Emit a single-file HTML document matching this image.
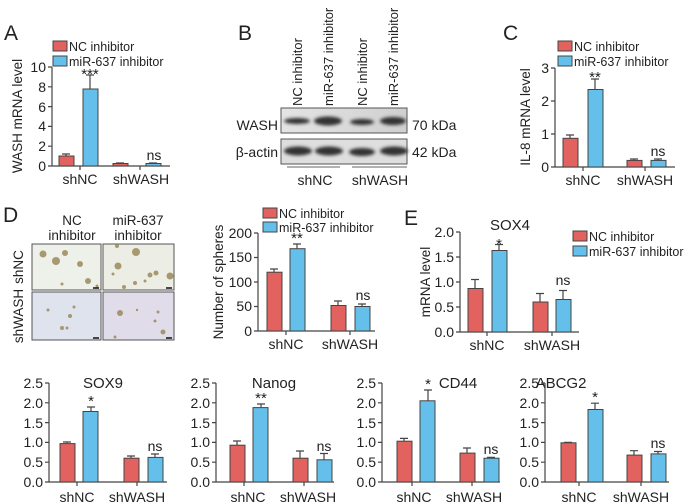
<!DOCTYPE html>
<html><head><meta charset="utf-8"><style>
html,body{margin:0;padding:0;background:#fff;}
svg{display:block;font-family:"Liberation Sans",Arial,sans-serif;}
.r{fill:#e2625f;stroke:#444;stroke-width:1}
.b{fill:#64bfea;stroke:#444;stroke-width:1}
.ax{stroke:#444;stroke-width:1.2;fill:none}
.e{stroke:#444;stroke-width:1.2;fill:none}
.t{font-size:14px;text-anchor:end;fill:#222}
.xl{font-size:14px;text-anchor:middle;fill:#222}
.lg{font-size:12.5px;fill:#222}
.s{font-size:13px;text-anchor:middle;fill:#222}
.L{font-size:21px;fill:#222}
.ti{font-size:15px;text-anchor:middle;fill:#222}
</style></head><body>
<svg width="685" height="503" viewBox="0 0 685 503">
<!-- Panel A -->
<text class="L" x="4" y="40">A</text>
<rect class="r" x="53" y="41" width="14" height="10"/><text class="lg" x="69" y="51">NC inhibitor</text>
<rect class="b" x="53" y="56" width="14" height="10"/><text class="lg" x="69" y="66">miR-637 inhibitor</text>
<text transform="translate(22,116) rotate(-90)" class="xl" style="font-size:13.5px">WASH mRNA level</text>
<path class="ax" d="M52,67V166H170M48,67H52M48,86.8H52M48,106.6H52M48,126.4H52M48,146.2H52M48,166H52M80,166V170M140,166V170"/>
<text class="t" x="46" y="72">10</text><text class="t" x="46" y="92">8</text><text class="t" x="46" y="112">6</text><text class="t" x="46" y="131">4</text><text class="t" x="46" y="151">2</text><text class="t" x="46" y="171">0</text>
<path class="e" d="M66,156V154M62,154H70M90,89V75M86,75H94M120,163.5V163M116,163H124M153,163.5V163M149,163H157"/>
<rect class="r" x="59" y="156" width="15" height="10"/><rect class="b" x="83" y="89" width="15" height="77"/>
<rect class="r" x="113" y="163.5" width="15" height="2.5"/><rect class="b" x="146" y="163.5" width="15" height="2.5"/>
<text class="s" x="90" y="79" style="font-size:15px">***</text><text class="s" x="154" y="160" style="font-size:14px">ns</text>
<text class="xl" x="80" y="184">shNC</text><text class="xl" x="141" y="184">shWASH</text>

<!-- Panel B -->
<text class="L" x="238" y="40">B</text>
<text transform="translate(302,106) rotate(-90)" style="font-size:13px;fill:#222">NC inhibitor</text>
<text transform="translate(333,106) rotate(-90)" style="font-size:13px;fill:#222">miR-637 inhibitor</text>
<text transform="translate(367,106) rotate(-90)" style="font-size:13px;fill:#222">NC inhibitor</text>
<text transform="translate(398,106) rotate(-90)" style="font-size:13px;fill:#222">miR-637 inhibitor</text>
<defs><linearGradient id="bg" x1="0" x2="1"><stop offset="0" stop-color="#e4e4e4"/><stop offset="0.6" stop-color="#d8d8d8"/><stop offset="1" stop-color="#cfcfcf"/></linearGradient>
<filter id="bl"><feGaussianBlur stdDeviation="1.6"/></filter></defs>
<rect x="281" y="108" width="126" height="25" fill="url(#bg)" stroke="#555"/>
<rect x="281" y="139" width="126" height="25" fill="#dedede" stroke="#555"/>
<g filter="url(#bl)" fill="#333">
<ellipse cx="297" cy="121" rx="13" ry="3"/><ellipse cx="328" cy="121" rx="14" ry="4.5"/><ellipse cx="362" cy="122" rx="12" ry="3"/><ellipse cx="393" cy="121" rx="13" ry="4"/>
<ellipse cx="298" cy="151" rx="14" ry="4.5"/><ellipse cx="329" cy="151" rx="14" ry="4.5"/><ellipse cx="362" cy="152" rx="13" ry="4"/><ellipse cx="394" cy="151" rx="14" ry="4.5"/>
</g>
<text x="278" y="130" style="font-size:14px;text-anchor:end;fill:#222">WASH</text>
<text x="278" y="157" style="font-size:14px;text-anchor:end;fill:#222">β-actin</text>
<text x="412" y="130" style="font-size:14px;fill:#222">70 kDa</text>
<text x="412" y="157" style="font-size:14px;fill:#222">42 kDa</text>
<path d="M287,167H340M352,167H407" stroke="#999" stroke-width="1.5"/>
<text class="xl" x="315" y="185">shNC</text><text class="xl" x="380" y="185">shWASH</text>

<!-- Panel C -->
<text class="L" x="503" y="40">C</text>
<rect class="r" x="558" y="41" width="14" height="10"/><text class="lg" x="574" y="51">NC inhibitor</text>
<rect class="b" x="558" y="56" width="14" height="10"/><text class="lg" x="574" y="66">miR-637 inhibitor</text>
<text transform="translate(530,117) rotate(-90)" class="xl" style="font-size:13.5px">IL-8 mRNA level</text>
<path class="ax" d="M555,68V167H675M551,68H555M551,101H555M551,134H555M551,167H555M583,167V171M645,167V171"/>
<text class="t" x="549" y="73">3</text><text class="t" x="549" y="106">2</text><text class="t" x="549" y="139">1</text><text class="t" x="549" y="172">0</text>
<path class="e" d="M570,138V135M566,135H574M595,89V79M591,79H599M634,160V159M630,159H638M658,160V159M654,159H662"/>
<rect class="r" x="563" y="138.3" width="15" height="28.7"/><rect class="b" x="588" y="89.5" width="15" height="77.5"/>
<rect class="r" x="627" y="160.4" width="15" height="6.6"/><rect class="b" x="651" y="160.4" width="15" height="6.6"/>
<text class="s" x="595" y="82" style="font-size:15px">**</text><text class="s" x="658" y="156" style="font-size:14px">ns</text>
<text class="xl" x="583" y="185">shNC</text><text class="xl" x="645" y="185">shWASH</text>

<!-- Panel D images -->
<text class="L" x="3" y="222">D</text>
<text class="xl" x="72" y="225" style="font-size:13.5px">NC</text><text class="xl" x="72" y="240" style="font-size:13.5px">inhibitor</text>
<text class="xl" x="138" y="225" style="font-size:13.5px">miR-637</text><text class="xl" x="138" y="240" style="font-size:13.5px">inhibitor</text>
<text transform="translate(23,267) rotate(-90)" class="xl" style="font-size:13.5px">shNC</text>
<text transform="translate(23,316) rotate(-90)" class="xl" style="font-size:13.5px">shWASH</text>
<rect x="32" y="244" width="69" height="46" fill="#eef0ea" stroke="#555"/>
<rect x="103" y="244" width="71" height="46" fill="#eceee6" stroke="#555"/>
<rect x="32" y="292" width="69" height="48" fill="#dfe3ee" stroke="#555"/>
<rect x="103" y="292" width="71" height="48" fill="#e0dcea" stroke="#555"/>
<g fill="#9b8a5a" opacity="0.85">
<circle cx="43" cy="254" r="3.5"/><circle cx="56" cy="261" r="4"/><circle cx="65" cy="253" r="3"/><circle cx="80" cy="264" r="3"/><circle cx="88" cy="281" r="3"/><circle cx="62" cy="284" r="1.5"/><circle cx="97" cy="286" r="1.5"/>
<circle cx="117" cy="246" r="2"/><circle cx="136" cy="252" r="4"/><circle cx="118" cy="266" r="3.5"/><circle cx="113" cy="274" r="1.5"/><circle cx="150" cy="275" r="2.5"/><circle cx="156" cy="273" r="2.5"/><circle cx="170" cy="276" r="3.5"/><circle cx="135" cy="283" r="2"/><circle cx="124" cy="287" r="2"/><circle cx="145" cy="281" r="1.5"/>
<circle cx="48" cy="310" r="1.5"/><circle cx="74" cy="307" r="1.5"/><circle cx="70" cy="316" r="2"/><circle cx="62" cy="328" r="2"/><circle cx="67" cy="328" r="1.5"/>
<circle cx="120" cy="313" r="3"/><circle cx="137" cy="310" r="1.2"/><circle cx="158" cy="312" r="1.5"/><circle cx="155" cy="321" r="1.5"/><circle cx="163" cy="332" r="2.5"/><circle cx="115" cy="337" r="1.5"/>
</g>
<path d="M93,288H99M166,288H172M93,338H99M166,338H172" stroke="#111" stroke-width="1.5"/>

<!-- Spheres -->
<rect class="r" x="263" y="208" width="14" height="10"/><text class="lg" x="279" y="218">NC inhibitor</text>
<rect class="b" x="263" y="222" width="14" height="10"/><text class="lg" x="279" y="232">miR-637 inhibitor</text>
<text transform="translate(223,282) rotate(-90)" class="xl" style="font-size:13.5px">Number of spheres</text>
<path class="ax" d="M258,233V331H375M254,233H258M254,257.5H258M254,282H258M254,306.5H258M254,331H258M286,331V335M350,331V335"/>
<text class="t" x="252" y="238">200</text><text class="t" x="252" y="262">150</text><text class="t" x="252" y="287">100</text><text class="t" x="252" y="311">50</text><text class="t" x="252" y="336">0</text>
<path class="e" d="M274,272V269M270,269H278M297,249V244M293,244H301M338,305V301M334,301H342M362,306V304M358,304H366"/>
<rect class="r" x="267" y="272.2" width="15" height="58.8"/><rect class="b" x="290" y="248.7" width="15" height="82.3"/>
<rect class="r" x="331" y="305.5" width="15" height="25.5"/><rect class="b" x="355" y="306.5" width="15" height="24.5"/>
<text class="s" x="297" y="243" style="font-size:15px">**</text><text class="s" x="363" y="300" style="font-size:14px">ns</text>
<text class="xl" x="286" y="349">shNC</text><text class="xl" x="350" y="349">shWASH</text>

<!-- Panel E SOX4 -->
<text class="L" x="404" y="225">E</text>
<text class="ti" x="510" y="230">SOX4</text>
<rect class="r" x="573" y="231" width="14" height="10"/><text class="lg" x="589" y="241">NC inhibitor</text>
<rect class="b" x="573" y="246" width="14" height="10"/><text class="lg" x="589" y="256">miR-637 inhibitor</text>
<text transform="translate(430,282) rotate(-90)" class="xl" style="font-size:13.5px">mRNA level</text>
<path class="ax" d="M460,232V332H579M456,232H460M456,257H460M456,282H460M456,307H460M456,332H460M487,332V336M552,332V336"/>
<text class="t" x="454" y="237">2.0</text><text class="t" x="454" y="262">1.5</text><text class="t" x="454" y="287">1.0</text><text class="t" x="454" y="312">0.5</text><text class="t" x="454" y="337">0.0</text>
<path class="e" d="M475,288V279.5M471,279.5H479M499,250V244.5M495,244.5H503M540,302V293.5M536,293.5H544M563,299V290.5M559,290.5H567"/>
<rect class="r" x="468" y="288.5" width="15" height="43.5"/><rect class="b" x="492" y="250.5" width="15" height="81.5"/>
<rect class="r" x="533" y="302" width="15" height="30"/><rect class="b" x="556" y="299.5" width="15" height="32.5"/>
<text class="s" x="499" y="249" style="font-size:15px">*</text><text class="s" x="563" y="285" style="font-size:14px">ns</text>
<text class="xl" x="487" y="350">shNC</text><text class="xl" x="552" y="350">shWASH</text>

<!-- Bottom row -->
<g transform="translate(49,0)">
<text class="ti" x="54" y="388">SOX9</text>
<path class="ax" d="M0,383V482H118M-4,383H0M-4,402.8H0M-4,422.6H0M-4,442.4H0M-4,462.2H0M-4,482H0M28,482V486M88,482V486"/>
<text class="t" x="-6" y="388">2.5</text><text class="t" x="-6" y="408">2.0</text><text class="t" x="-6" y="428">1.5</text><text class="t" x="-6" y="447">1.0</text><text class="t" x="-6" y="467">0.5</text><text class="t" x="-6" y="487">0.0</text>
<path class="e" d="M18,443V442M14,442H22M42,411V407M38,407H46M82,458V456M78,456H86M106,457V454M102,454H110"/>
<rect class="r" x="11" y="443.6" width="15" height="38.4"/><rect class="b" x="34" y="411.5" width="15" height="70.5"/>
<rect class="r" x="75" y="458.2" width="15" height="23.8"/><rect class="b" x="99" y="457.4" width="15" height="24.6"/>
<text class="s" x="42" y="406" style="font-size:15px">*</text><text class="s" x="106" y="451" style="font-size:14px">ns</text>
<text class="xl" x="28" y="502">shNC</text><text class="xl" x="88" y="502">shWASH</text>
</g>
<g transform="translate(216,0)">
<text class="ti" x="58" y="388">Nanog</text>
<path class="ax" d="M0,383V482H118M-4,383H0M-4,402.8H0M-4,422.6H0M-4,442.4H0M-4,462.2H0M-4,482H0M28,482V486M88,482V486"/>
<text class="t" x="-6" y="388">2.5</text><text class="t" x="-6" y="408">2.0</text><text class="t" x="-6" y="428">1.5</text><text class="t" x="-6" y="447">1.0</text><text class="t" x="-6" y="467">0.5</text><text class="t" x="-6" y="487">0.0</text>
<path class="e" d="M21,445V441M17,441H25M45,407V404M41,404H49M84,458V451M80,451H88M108,460V453.5M104,453.5H112"/>
<rect class="r" x="14" y="445.2" width="15" height="36.8"/><rect class="b" x="37" y="407.6" width="15" height="74.4"/>
<rect class="r" x="77" y="458.2" width="15" height="23.8"/><rect class="b" x="101" y="459.8" width="15" height="22.2"/>
<text class="s" x="45" y="403" style="font-size:15px">**</text><text class="s" x="108" y="451" style="font-size:14px">ns</text>
<text class="xl" x="32" y="502">shNC</text><text class="xl" x="92" y="502">shWASH</text>
</g>
<g transform="translate(382,0)">
<text class="ti" x="76" y="388">CD44</text>
<path class="ax" d="M0,383V482H118M-4,383H0M-4,402.8H0M-4,422.6H0M-4,442.4H0M-4,462.2H0M-4,482H0M30,482V486M90,482V486"/>
<text class="t" x="-6" y="388">2.5</text><text class="t" x="-6" y="408">2.0</text><text class="t" x="-6" y="428">1.5</text><text class="t" x="-6" y="447">1.0</text><text class="t" x="-6" y="467">0.5</text><text class="t" x="-6" y="487">0.0</text>
<path class="e" d="M22,441V438.4M18,438.4H26M46,401V390M42,390H50M85,453V448M81,448H89M109,458V457.4M105,457.4H113"/>
<rect class="r" x="15" y="441.2" width="15" height="40.8"/><rect class="b" x="38" y="400.8" width="15" height="81.2"/>
<rect class="r" x="78" y="453.1" width="15" height="28.9"/><rect class="b" x="102" y="458.2" width="15" height="23.8"/>
<text class="s" x="46" y="389" style="font-size:15px">*</text><text class="s" x="109" y="454" style="font-size:14px">ns</text>
<text class="xl" x="32" y="502">shNC</text><text class="xl" x="92" y="502">shWASH</text>
</g>
<g transform="translate(545,0)">
<text class="ti" x="16" y="388">ABCG2</text>
<path class="ax" d="M0,383V482H124M-4,383H0M-4,402.8H0M-4,422.6H0M-4,442.4H0M-4,462.2H0M-4,482H0M34,482V486M96,482V486"/>
<text class="t" x="-6" y="388">2.5</text><text class="t" x="-6" y="408">2.0</text><text class="t" x="-6" y="428">1.5</text><text class="t" x="-6" y="447">1.0</text><text class="t" x="-6" y="467">0.5</text><text class="t" x="-6" y="487">0.0</text>
<path class="e" d="M23,443V442.4M19,442.4H27M50,409.5V403.2M46,403.2H54M89,455V450.7M85,450.7H93M113,454V451.5M109,451.5H117"/>
<rect class="r" x="16" y="442.8" width="15" height="39.2"/><rect class="b" x="43" y="409.5" width="15" height="72.5"/>
<rect class="r" x="82" y="455.1" width="15" height="26.9"/><rect class="b" x="106" y="453.9" width="15" height="28.1"/>
<text class="s" x="50" y="402" style="font-size:15px">*</text><text class="s" x="113" y="448" style="font-size:14px">ns</text>
<text class="xl" x="34" y="502">shNC</text><text class="xl" x="96" y="502">shWASH</text>
</g>
</svg>
</body></html>
